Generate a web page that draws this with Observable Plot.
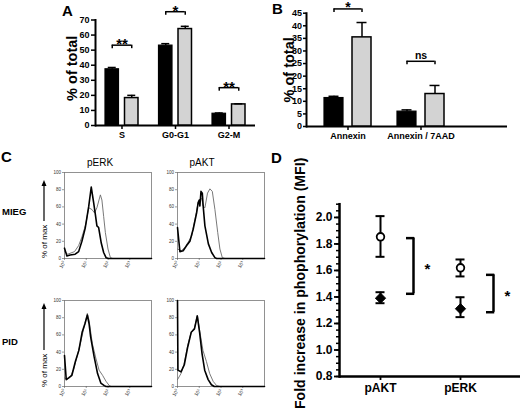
<!DOCTYPE html>
<html><head><meta charset="utf-8">
<script src="https://cdn.jsdelivr.net/npm/d3@7"></script>
<script src="https://cdn.jsdelivr.net/npm/@observablehq/plot@0.6"></script>
<style>
html,body{margin:0;padding:0;background:#fff;}
#fig{position:relative;width:520px;height:414px;overflow:hidden;background:#fff;font-family:"Liberation Sans",Arial,sans-serif;}
#fig > svg{position:absolute;}
</style></head><body><div id="fig"></div>
<script>
// ---------- Panel A: cell-cycle distribution (% of total) ----------
const cycleCats = ["S", "G0-G1", "G2-M"];
const cycleMIEG = [37.3, 53, 7.8];
const cycleMIEGErr = [1.2, 1.3, 0.5];
const cyclePID = [18.2, 64, 14];
const cyclePIDErr = [1.8, 1.8, 0.4];
const cycleSig = ["**", "*", "**"];
const cycleSigLevel = [53.3, 75.5, 25.1];
const cycleYTicks = [0, 10, 20, 30, 40, 50, 60, 70];

// ---------- Panel B: apoptosis (% of total) ----------
const apopCats = ["Annexin", "Annexin / 7AAD"];
const apopMIEG = [11.3, 5.9];
const apopMIEGErr = [0.7, 0.7];
const apopPID = [35.4, 12.9];
const apopPIDErr = [5.9, 3.4];
const apopSig = ["*", "ns"];
const apopSigLevel = [46.7, 25.9];
const apopYTicks = [0, 5, 10, 15, 20, 25, 30, 35, 40, 45];

// ---------- Panel C: phospho-flow histograms ([log10 fluorescence, % of max]) ----------
const histCols = ["pERK", "pAKT"];
const histRows = ["MIEG", "PID"];
const histXTicks = [0, 1, 2, 3];
const histXLabels = ["10⁰", "10¹", "10²", "10³"];
const histYTicks = [0, 20, 40, 60, 80, 100];
const pERK_MIEG_thick = [[0,12],[0.11,3],[0.26,4],[0.49,5],[0.65,8],[0.8,20],[0.95,35],[1.11,60],[1.23,83],[1.34,65],[1.42,51],[1.49,38],[1.57,36],[1.69,18],[1.8,7],[1.91,1],[2.03,0],[4,0]];
const pERK_MIEG_thin  = [[0,8],[0.15,5],[0.46,8],[0.65,15],[0.8,25],[0.98,40],[1.11,59],[1.26,57],[1.38,53],[1.49,59],[1.65,74],[1.72,68],[1.8,49],[1.88,30],[2.0,11],[2.11,1],[2.22,0],[4,0]];
const pAKT_MIEG_thick = [[0,36],[0.11,8],[0.26,9],[0.42,15],[0.57,20],[0.72,34],[0.88,53],[0.95,65],[1.0,68],[1.03,61],[1.08,78],[1.14,76],[1.18,61],[1.26,38],[1.42,17],[1.57,7],[1.72,1],[1.8,0],[4,0]];
const pAKT_MIEG_thin  = [[0,11],[0.18,9],[0.34,13],[0.49,19],[0.65,26],[0.8,45],[0.95,65],[1.11,70],[1.18,61],[1.26,59],[1.38,76],[1.49,81],[1.6,78],[1.72,57],[1.85,30],[1.95,11],[2.06,1],[2.18,0],[4,0]];
const pERK_PID_thick  = [[0,36],[0.08,8],[0.19,10],[0.34,13],[0.5,29],[0.66,42],[0.81,63],[0.94,73],[1.05,83],[1.13,73],[1.2,58],[1.36,35],[1.52,15],[1.67,4],[1.83,1],[1.91,0],[4,0]];
const pERK_PID_thin   = [[0,10],[0.11,8],[0.27,11],[0.42,20],[0.58,35],[0.73,50],[0.89,68],[1.05,85],[1.13,77],[1.28,50],[1.44,33],[1.59,19],[1.75,13],[1.91,6],[2.06,1],[2.14,0],[4,0]];
const pAKT_PID_thick  = [[0,100],[0.02,19],[0.16,17],[0.31,25],[0.47,46],[0.63,63],[0.78,67],[0.91,82],[1.02,62],[1.13,38],[1.25,19],[1.41,8],[1.56,2],[1.69,0],[4,0]];
const pAKT_PID_thin   = [[0,8],[0.16,15],[0.31,27],[0.47,48],[0.63,63],[0.78,68],[0.91,83],[1.02,65],[1.17,42],[1.33,29],[1.48,15],[1.64,6],[1.8,1],[1.95,0],[4,0]];

// ---------- Panel D: fold increase in phosphorylation (MFI) ----------
const phosCats = ["pAKT", "pERK"];
const phosOpen = [1.854, 1.62];
const phosOpenLo = [1.703, 1.555];
const phosOpenHi = [2.01, 1.683];
const phosFilled = [1.391, 1.311];
const phosFilledLo = [1.353, 1.248];
const phosFilledHi = [1.436, 1.398];
const phosSigLo = [1.424, 1.285];
const phosSigHi = [1.844, 1.567];
const phosSig = ["*", "*"];
const phosYTicks = [0.8, 1.0, 1.2, 1.4, 1.6, 1.8, 2.0];
const phosYLabel = "Fold increase in phophorylation (MFI)";
const pctLabel = "% of total";

// ================= drawing =================
const fig = document.getElementById("fig");
const FONT = "'Liberation Sans', Arial, sans-serif";
const baseStyle = () => ({background: "transparent", overflow: "visible", fontFamily: FONT, color: "#000"});
function place(svg, left, top) {
  svg.style.position = "absolute";
  svg.style.left = left + "px";
  svg.style.top = top + "px";
  fig.appendChild(svg);
}

// ---- A ----
const cycleRows = cycleCats.map((cat, i) => ({cat, mieg: cycleMIEG[i], miegErr: cycleMIEGErr[i], pid: cyclePID[i], pidErr: cyclePIDErr[i], sig: cycleSig[i], lvl: cycleSigLevel[i]}));
{
  const bw = 38, bar = 13.5, side = 2.5, off = side + bar / 2 - bw / 2; // -9.75
  const inB = {insetLeft: side, insetRight: bw - side - bar};
  const inG = {insetLeft: bw - side - bar, insetRight: side};
  const cap = (bw - 8) / 2;
  const svg = Plot.plot({
    width: 260, height: 145,
    marginLeft: 95, marginRight: 5, marginTop: 19.5, marginBottom: 20,
    style: baseStyle(),
    x: {domain: cycleCats, range: [102.5, 247.5], paddingInner: 0.29, paddingOuter: 0, round: false},
    y: {domain: [0, 70]},
    marks: [
      Plot.frame({anchor: "left", strokeWidth: 2}),
      Plot.ruleY([0], {strokeWidth: 2}),
      Plot.axisY({ticks: cycleYTicks, tickSize: 4, tickPadding: 2, strokeWidth: 1.5, fontSize: 9, fontWeight: "bold", label: null}),
      Plot.axisX({tickSize: 4, tickPadding: 2, strokeWidth: 1.5, fontSize: 9, fontWeight: "bold", label: null}),
      Plot.barY(cycleRows, {x: "cat", y: "mieg", fill: "#000", stroke: "#000", strokeWidth: 1.2, ...inB}),
      Plot.barY(cycleRows, {x: "cat", y: "pid", fill: "#d3d3d3", stroke: "#000", strokeWidth: 1.5, ...inG}),
      Plot.ruleX(cycleRows, {x: "cat", y1: "mieg", y2: d => d.mieg + d.miegErr, dx: off, strokeWidth: 1.5}),
      Plot.tickY(cycleRows, {x: "cat", y: d => d.mieg + d.miegErr, dx: off, insetLeft: cap, insetRight: cap, strokeWidth: 1.5}),
      Plot.ruleX(cycleRows, {x: "cat", y1: "pid", y2: d => d.pid + d.pidErr, dx: -off, strokeWidth: 1.5}),
      Plot.tickY(cycleRows, {x: "cat", y: d => d.pid + d.pidErr, dx: -off, insetLeft: cap, insetRight: cap, strokeWidth: 1.5}),
      Plot.tickY(cycleRows, {x: "cat", y: "lvl", insetLeft: side + bar / 2, insetRight: side + bar / 2, strokeWidth: 1.5}),
      Plot.ruleX(cycleRows, {x: "cat", y1: "lvl", y2: "lvl", dx: off, insetBottom: -3.5, strokeWidth: 1.5}),
      Plot.ruleX(cycleRows, {x: "cat", y1: "lvl", y2: "lvl", dx: -off, insetBottom: -3.5, strokeWidth: 1.5}),
      Plot.text(cycleRows, {x: "cat", y: "lvl", text: "sig", lineAnchor: "bottom", dy: 4, fontSize: 15, fontWeight: "bold"}),
      Plot.text([pctLabel], {text: d => d, frameAnchor: "left", textAnchor: "middle", rotate: -90, dx: -23.5, dy: -4.5, fontSize: 14.5, fontWeight: "bold"})
    ]
  });
  place(svg, 0, 0);
}

// ---- B ----
const apopRows = apopCats.map((cat, i) => ({cat, mieg: apopMIEG[i], miegErr: apopMIEGErr[i], pid: apopPID[i], pidErr: apopPIDErr[i], sig: apopSig[i], lvl: apopSigLevel[i]}));
{
  const bw = 58.4, bar = 19, side = 5.7, off = side + bar / 2 - bw / 2; // -14
  const inB = {insetLeft: side, insetRight: bw - side - bar};
  const inG = {insetLeft: bw - side - bar, insetRight: side};
  const cap = (bw - 10) / 2;
  const svg = Plot.plot({
    width: 260, height: 145,
    marginLeft: 46, marginRight: 13, marginTop: 12.7, marginBottom: 19,
    style: baseStyle(),
    x: {domain: apopCats, range: [58.3, 189.7], paddingInner: 0.2, paddingOuter: 0, round: false},
    y: {domain: [0, 45]},
    marks: [
      Plot.frame({anchor: "left", strokeWidth: 2}),
      Plot.ruleY([0], {strokeWidth: 2}),
      Plot.axisY({ticks: apopYTicks, tickSize: 3, tickPadding: 1.5, strokeWidth: 1.5, fontSize: 9, fontWeight: "bold", label: null}),
      Plot.axisX({tickSize: 4, tickPadding: 2, strokeWidth: 1.5, fontSize: 9, fontWeight: "bold", label: null}),
      Plot.barY(apopRows, {x: "cat", y: "mieg", fill: "#000", stroke: "#000", strokeWidth: 1.2, ...inB}),
      Plot.barY(apopRows, {x: "cat", y: "pid", fill: "#d3d3d3", stroke: "#000", strokeWidth: 1.5, ...inG}),
      Plot.ruleX(apopRows, {x: "cat", y1: "mieg", y2: d => d.mieg + d.miegErr, dx: off, strokeWidth: 1.5}),
      Plot.tickY(apopRows, {x: "cat", y: d => d.mieg + d.miegErr, dx: off, insetLeft: cap, insetRight: cap, strokeWidth: 1.5}),
      Plot.ruleX(apopRows, {x: "cat", y1: "pid", y2: d => d.pid + d.pidErr, dx: -off, strokeWidth: 1.5}),
      Plot.tickY(apopRows, {x: "cat", y: d => d.pid + d.pidErr, dx: -off, insetLeft: cap, insetRight: cap, strokeWidth: 1.5}),
      Plot.tickY(apopRows, {x: "cat", y: "lvl", insetLeft: side + bar / 2, insetRight: side + bar / 2, strokeWidth: 1.5}),
      Plot.ruleX(apopRows, {x: "cat", y1: "lvl", y2: "lvl", dx: off, insetBottom: -3.5, strokeWidth: 1.5}),
      Plot.ruleX(apopRows, {x: "cat", y1: "lvl", y2: "lvl", dx: -off, insetBottom: -3.5, strokeWidth: 1.5}),
      Plot.text(apopRows.filter(d => d.sig !== "ns"), {x: "cat", y: "lvl", text: "sig", lineAnchor: "bottom", dy: 3.5, fontSize: 14, fontWeight: "bold"}),
      Plot.text(apopRows.filter(d => d.sig === "ns"), {x: "cat", y: "lvl", text: "sig", lineAnchor: "bottom", dy: -2.5, fontSize: 10.5, fontWeight: "bold"}),
      Plot.text([pctLabel], {text: d => d, frameAnchor: "left", textAnchor: "middle", rotate: -90, dx: -17, dy: 0, fontSize: 14.5, fontWeight: "bold"})
    ]
  });
  place(svg, 260, 0);
}

// ---- C ----
function histPlot(thick, thin) {
  const toRows = a => a.map(([lx, v]) => ({lx, v}));
  return Plot.plot({
    width: 109, height: 106,
    marginLeft: 18, marginTop: 4, marginRight: 4, marginBottom: 16,
    style: baseStyle(),
    x: {domain: [0, 4]},
    y: {domain: [0, 100]},
    marks: [
      Plot.frame({stroke: "#777", strokeWidth: 0.8}),
      Plot.axisY({ticks: histYTicks, tickSize: 2, tickPadding: 1.5, fontSize: 4.5, fill: "#333", stroke: "#555", strokeWidth: 0.6, label: null}),
      Plot.axisX({ticks: histXTicks, tickFormat: d => histXLabels[d], tickSize: 2, tickPadding: 1, tickRotate: -60, fontSize: 5, fill: "#333", stroke: "#555", strokeWidth: 0.6, label: null}),
      Plot.line(toRows(thin), {x: "lx", y: "v", stroke: "#6a6a6a", strokeWidth: 0.9}),
      Plot.line(toRows(thick), {x: "lx", y: "v", stroke: "#000", strokeWidth: 1.6})
    ]
  });
}
place(histPlot(pERK_MIEG_thick, pERK_MIEG_thin), 46, 168);
place(histPlot(pAKT_MIEG_thick, pAKT_MIEG_thin), 159, 168);
place(histPlot(pERK_PID_thick, pERK_PID_thin), 46, 296);
place(histPlot(pAKT_PID_thick, pAKT_PID_thin), 159, 296);

// ---- D ----
const phosRows = phosCats.map((cat, i) => ({cat, open: phosOpen[i], openLo: phosOpenLo[i], openHi: phosOpenHi[i], filled: phosFilled[i], filledLo: phosFilledLo[i], filledHi: phosFilledHi[i], sLo: phosSigLo[i], sHi: phosSigHi[i], sig: phosSig[i]}));
{
  const bw = 40, cap = (bw - 9) / 2, bx = 33, tickLen = 7;
  const minorTicks = d3.range(16, 43).map(i => i / 20);
  const bIn = {insetLeft: bw / 2 + bx - tickLen, insetRight: bw / 2 - bx - 1.25};
  const svg = Plot.plot({
    width: 260, height: 269,
    marginLeft: 79, marginRight: 0, marginTop: 58.7, marginBottom: 38,
    style: baseStyle(),
    x: {domain: phosCats, range: [100, 220], paddingInner: 0.5, paddingOuter: 0, round: false},
    y: {domain: [0.8, 2.1]},
    marks: [
      Plot.frame({anchor: "left", strokeWidth: 2.5}),
      Plot.ruleY([0.8], {strokeWidth: 2.5}),
      Plot.axisY({ticks: minorTicks, tickSize: 3, strokeWidth: 1.5, text: null, label: null}),
      Plot.axisY({ticks: phosYTicks, tickSize: 5, tickPadding: 2, strokeWidth: 1.8, tickFormat: d3.format(".1f"), fontSize: 12, fontWeight: "bold", label: null}),
      Plot.axisX({tickSize: 4, tickPadding: 3, strokeWidth: 1.8, fontSize: 12, fontWeight: "bold", label: null}),
      Plot.ruleX(phosRows, {x: "cat", y1: "openLo", y2: "openHi", strokeWidth: 2}),
      Plot.tickY(phosRows, {x: "cat", y: "openLo", insetLeft: cap, insetRight: cap, strokeWidth: 2}),
      Plot.tickY(phosRows, {x: "cat", y: "openHi", insetLeft: cap, insetRight: cap, strokeWidth: 2}),
      Plot.ruleX(phosRows, {x: "cat", y1: "filledLo", y2: "filledHi", strokeWidth: 2}),
      Plot.tickY(phosRows, {x: "cat", y: "filledLo", insetLeft: cap, insetRight: cap, strokeWidth: 2}),
      Plot.tickY(phosRows, {x: "cat", y: "filledHi", insetLeft: cap, insetRight: cap, strokeWidth: 2}),
      Plot.dot(phosRows, {x: "cat", y: "open", r: 3.8, fill: "#fff", stroke: "#000", strokeWidth: 1.8}),
      Plot.dot(phosRows, {x: "cat", y: "filled", symbol: "diamond2", r: 4.6, fill: "#000", stroke: "#000", strokeWidth: 1}),
      Plot.ruleX(phosRows, {x: "cat", y1: "sLo", y2: "sHi", dx: bx, strokeWidth: 2.5}),
      Plot.tickY(phosRows, {x: "cat", y: "sLo", ...bIn, strokeWidth: 2.5}),
      Plot.tickY(phosRows, {x: "cat", y: "sHi", ...bIn, strokeWidth: 2.5}),
      Plot.text(phosRows, {x: "cat", y: d => (d.sLo + d.sHi) / 2, text: "sig", dx: 47, dy: 3, fontSize: 15, fontWeight: "bold"}),
      Plot.text([phosYLabel], {text: d => d, frameAnchor: "left", textAnchor: "middle", rotate: -90, dx: -39, dy: -7, fontSize: 14.1, fontWeight: "bold"})
    ]
  });
  place(svg, 260, 145);
}

// ---- overlay: panel letters, row/column titles, "% of max" arrows ----
{
  const ov = d3.create("svg").attr("width", 520).attr("height", 414)
    .style("left", "0px").style("top", "0px").style("pointer-events", "none")
    .attr("font-family", FONT);
  const letters = [["A", 62, 16], ["B", 272, 14], ["C", 1, 162], ["D", 271, 163]];
  for (const [t, x, y] of letters)
    ov.append("text").attr("x", x).attr("y", y).attr("font-size", 15).attr("font-weight", "bold").text(t);
  const colX = [100, 202];
  histCols.forEach((t, i) => ov.append("text").attr("x", colX[i]).attr("y", 166).attr("text-anchor", "middle").attr("font-size", 10).text(t));
  const rowY = [215, 345];
  histRows.forEach((t, i) => ov.append("text").attr("x", 2).attr("y", rowY[i]).attr("font-size", 9.5).attr("font-weight", "bold").text(t));
  const arrows = [[44, 258, 180], [44, 387, 303]]; // x, text bottom, arrow tip
  for (const [x, yb, tip] of arrows) {
    ov.append("text").attr("transform", `translate(${x + 3},${yb}) rotate(-90)`).attr("font-size", 8).text("% of max");
    const yTop = yb - 37;
    ov.append("line").attr("x1", x).attr("x2", x).attr("y1", yTop).attr("y2", tip + 4).attr("stroke", "#000").attr("stroke-width", 1.2);
    ov.append("path").attr("d", `M${x},${tip} L${x - 2.5},${tip + 6} L${x + 2.5},${tip + 6} Z`).attr("fill", "#000");
  }
  fig.appendChild(ov.node());
}
</script></body></html>
